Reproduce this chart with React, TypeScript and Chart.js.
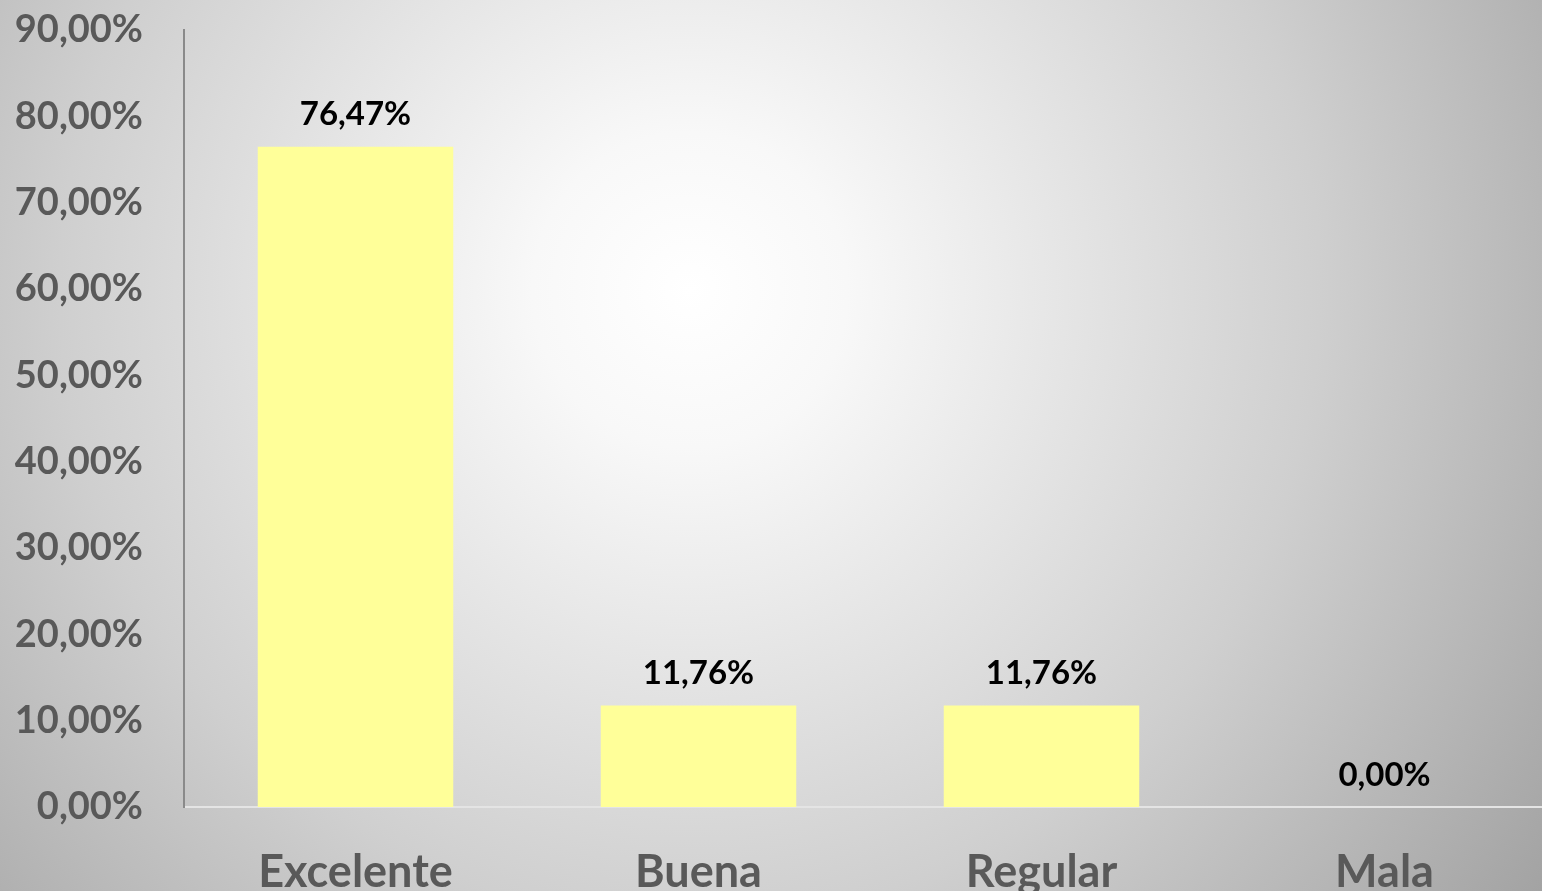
import React, { useEffect, useRef } from "react";
import { Chart, registerables } from "chart.js";

Chart.register(...registerables);

const categories = ["Excelente", "Buena", "Regular", "Mala"];
const values = [76.47, 11.76, 11.76, 0];
const yMax = 90;
const yStep = 10;

const fmt = (v: number) => v.toFixed(2).replace(".", ",") + "%";

const FONT = "Lato, 'Open Sans', sans-serif";

const bgPlugin = {
  id: "bgGrad",
  beforeDraw(chart: any) {
    const { ctx, width, height } = chart;
    ctx.save();
    const g = ctx.createRadialGradient(690, 290, 0, 690, 290, 1050);
    g.addColorStop(0, "#ffffff");
    g.addColorStop(0.15, "#f8f8f8");
    g.addColorStop(0.6, "#cfcfcf");
    g.addColorStop(1, "#a2a2a2");
    ctx.fillStyle = g;
    ctx.fillRect(0, 0, width, height);
    ctx.restore();
  },
};

const labelPlugin = {
  id: "valLabels",
  afterDatasetsDraw(chart: any) {
    const { ctx } = chart;
    const meta = chart.getDatasetMeta(0);
    ctx.save();
    ctx.font = `bold 33px ${FONT}`;
    ctx.fillStyle = "#000000";
    ctx.textAlign = "center";
    ctx.textBaseline = "middle";
    meta.data.forEach((bar: any, i: number) => {
      ctx.fillText(fmt(values[i]), bar.x, bar.y - 32);
    });
    ctx.restore();
  },
};

export default function App() {
  const ref = useRef<HTMLCanvasElement>(null);
  useEffect(() => {
    document.body.style.margin = "0";
    document.body.style.overflow = "hidden";
    const chart = new Chart(ref.current!, {
      type: "bar",
      data: {
        labels: categories,
        datasets: [
          {
            data: values,
            backgroundColor: "#ffff99",
            borderWidth: 0,
            categoryPercentage: 1,
            barPercentage: 0.57,
          },
        ],
      },
      options: {
        animation: false,
        responsive: false,
        maintainAspectRatio: false,
        layout: { padding: { top: 30, right: 4, bottom: 0, left: 0 } },
        plugins: { legend: { display: false }, tooltip: { enabled: false } },
        scales: {
          x: {
            grid: { display: false, drawTicks: false },
            border: { display: true, color: "#e4e4e4", width: 2 },
            ticks: {
              color: "#595959",
              font: { family: FONT, size: 45, weight: "bold", lineHeight: 1 },
              padding: 43,
            },
            afterFit: (s: any) => {
              s.height = 84;
              s.paddingLeft = 0;
              s.paddingRight = 0;
            },
          },
          y: {
            min: 0,
            max: yMax,
            grid: { display: false, drawTicks: false },
            border: { display: true, color: "#8a8a8a", width: 2 },
            ticks: {
              stepSize: yStep,
              color: "#595959",
              font: { family: FONT, size: 38, weight: "bold" },
              padding: 41,
              callback: (v: any) => fmt(Number(v)),
            },
            afterFit: (s: any) => {
              s.width = 184;
              s.paddingTop = 0;
              s.paddingBottom = 0;
            },
          },
        },
      },
      plugins: [bgPlugin, labelPlugin],
    });
    return () => chart.destroy();
  }, []);
  return (
    <div style={{ position: "fixed", left: 0, top: 0, width: 1542, height: 891, overflow: "hidden" }}>
      <canvas ref={ref} width={1560} height={891} style={{ display: "block", width: 1560, height: 891 }} />
    </div>
  );
}
